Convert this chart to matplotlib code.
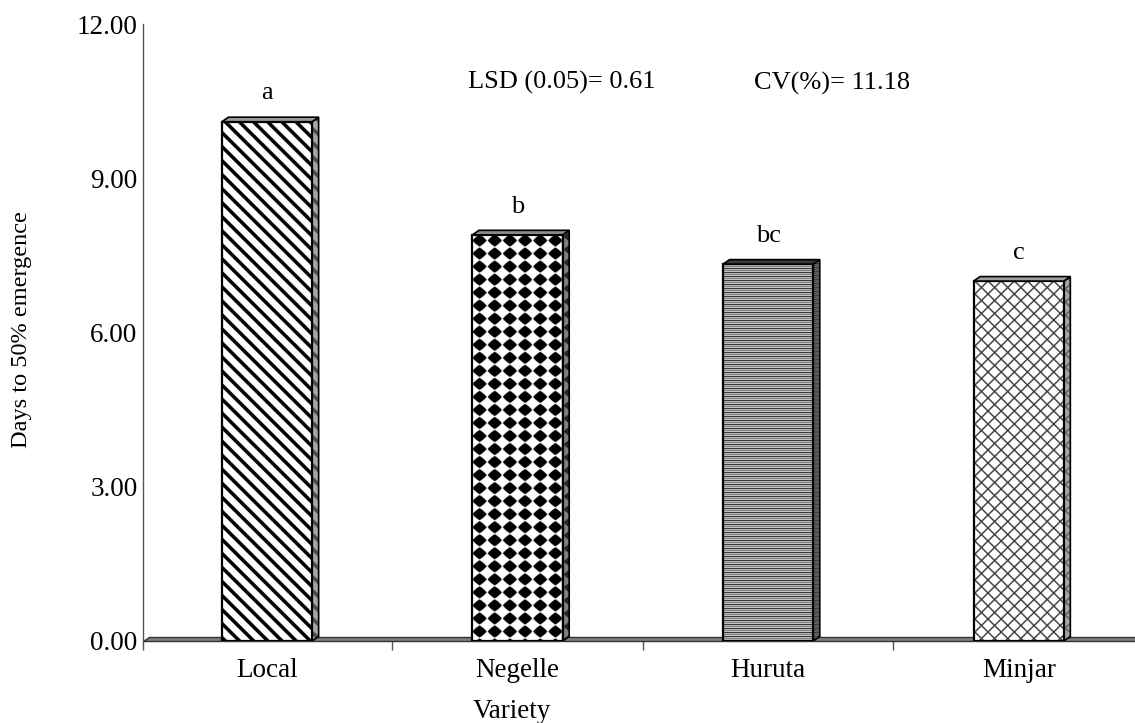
import numpy as np
import matplotlib
matplotlib.use("Agg")
import matplotlib.pyplot as plt
from matplotlib.patches import Polygon
from matplotlib.ticker import FixedLocator, FormatStrFormatter

# Data
varieties = ["Local", "Negelle", "Huruta", "Minjar"]
days_to_emergence = [10.1, 7.9, 7.33, 7.0]
mean_letters = ["a", "b", "bc", "c"]
lsd_text = "LSD (0.05)= 0.61"
cv_text = "CV(%)= 11.18"
y_ticks = [0, 3, 6, 9, 12]

plt.rcParams["font.family"] = ["Liberation Serif", "DejaVu Serif"]

W_PX, H_PX = 1135, 723
fig = plt.figure(figsize=(W_PX / 100, H_PX / 100), dpi=100)
ax = fig.add_axes([143 / W_PX, 1 - 641 / H_PX, (W_PX - 143) / W_PX, (641 - 24) / H_PX])

XMIN, XMAX = -0.495, 3.464
ax.set_xlim(XMIN, XMAX)
ax.set_ylim(0, 12)

bar_w = 0.36
depth_x = 6.5 / 250.6
depth_y = 4.5 / 51.42
SS = 4  # texture supersampling factor


# ---- fill textures, defined in screen pixels ----
def grid(H, W):
    i, j = np.mgrid[0:H * SS, 0:W * SS]
    return (i + 0.5) / SS, (j + 0.5) / SS


def tex_diag(H, W):
    i, j = grid(H, W)
    return np.where(((j - i) % 14) < 5, 0.0, 1.0)


def tex_diamond(H, W):
    i, j = grid(H, W)
    dx = (j % 15) / 15 - 0.5
    dy = (i % 13) / 13 - 0.5
    r = (np.abs(dx) ** 1.15 + np.abs(dy) ** 1.15) ** (1 / 1.15)
    return np.clip((r - 0.44) / 0.05, 0, 1)


def tex_hlines(H, W):
    i, _ = grid(H, W)
    seq = np.array([0.1, 0.8, 0.45, 0.85])
    return seq[np.floor(i).astype(int) % 4]


def tex_cross(H, W):
    i, j = grid(H, W)
    a = (i + j) % 13
    b = (j - i) % 13
    line = (a < 1.8) | (b < 1.8)
    return np.where(line, 0.22, 1.0)


textures = [tex_diag, tex_diamond, tex_hlines, tex_cross]
top_fill = ["#9a9a9a", "#8a8a8a", "#3a3a3a", "#a0a0a0"]
side_scale = [(0.30, 0.35), (0.15, 0.35), (0.15, 0.35), (0.30, 0.35)]

bars = ax.bar(range(len(varieties)), days_to_emergence, width=bar_w,
              facecolor="none", edgecolor="black", linewidth=1.6, zorder=5)

fig.canvas.draw()
T = ax.transData


def px_size(x0, x1, y0, y1):
    (a, b), (c, d) = T.transform([(x0, y0), (x1, y1)])
    return max(int(round(abs(d - b))), 2), max(int(round(abs(c - a))), 2)


# floor band along the category axis
floor = Polygon([(XMIN, 0), (XMAX + 0.1, 0), (XMAX + 0.1, depth_y), (XMIN + depth_x, depth_y)],
                closed=True, facecolor="#7f7f7f", edgecolor="#333333", linewidth=1.0,
                zorder=2, clip_on=False)
ax.add_patch(floor)

for k, bar in enumerate(bars):
    x0 = bar.get_x()
    x1 = x0 + bar.get_width()
    v = bar.get_height()
    H, W = px_size(x0, x1, 0, v)
    tex = textures[k](H, W)
    ax.imshow(tex, cmap="gray", vmin=0, vmax=1, extent=[x0, x1, 0, v],
              origin="upper", aspect="auto", interpolation="antialiased",
              interpolation_stage="rgba", zorder=3)

    # side face
    side = Polygon([(x1, 0), (x1 + depth_x, depth_y), (x1 + depth_x, v + depth_y), (x1, v)],
                   closed=True, facecolor="none", edgecolor="black", linewidth=1.2, zorder=6)
    ax.add_patch(side)
    Hs, Ws = px_size(x1, x1 + depth_x, 0, v + depth_y)
    lo, sc = side_scale[k]
    stex = textures[k](Hs, Ws) * sc + lo
    im = ax.imshow(stex, cmap="gray", vmin=0, vmax=1,
                   extent=[x1, x1 + depth_x, 0, v + depth_y],
                   origin="upper", aspect="auto", interpolation="antialiased",
                   interpolation_stage="rgba", zorder=4)
    im.set_clip_path(side)

    # top face
    top = Polygon([(x0, v), (x1, v), (x1 + depth_x, v + depth_y), (x0 + depth_x, v + depth_y)],
                  closed=True, facecolor=top_fill[k], edgecolor="black", linewidth=1.2, zorder=6)
    ax.add_patch(top)

    ax.annotate(mean_letters[k], xy=(bar.get_x() + bar.get_width() / 2, v),
                xytext=(0, 16), textcoords="offset points",
                ha="center", va="baseline", fontsize=19, zorder=7)

ax.set_xlim(XMIN, XMAX)
ax.set_ylim(0, 12)

# axes styling
for s in ["top", "right", "bottom"]:
    ax.spines[s].set_visible(False)
ax.spines["left"].set_color("#555555")
ax.spines["left"].set_linewidth(1.0)
ax.spines["left"].set_zorder(8)

ax.yaxis.set_major_locator(FixedLocator(y_ticks))
ax.yaxis.set_major_formatter(FormatStrFormatter("%.2f"))
ax.tick_params(axis="y", length=0, pad=4, labelsize=19.5)

ax.set_xticks(range(len(varieties)))
ax.set_xticklabels(varieties)
ax.set_xticks([XMIN, 0.5, 1.5, 2.5], minor=True)
ax.tick_params(axis="x", which="major", length=0, pad=12, labelsize=19.5)
ax.tick_params(axis="x", which="minor", length=6.5, width=1.0, color="#555555", direction="out")

ax.text(1.177, 10.87, lsd_text, ha="center", va="center", fontsize=19)
ax.text(2.255, 10.85, cv_text, ha="center", va="center", fontsize=19)

fig.text(22 / W_PX, 1 - 330 / H_PX, "Days to 50% emergence", rotation=90,
         ha="center", va="center", fontsize=17.5)
fig.text(512 / W_PX, 1 - 711 / H_PX, "Variety", ha="center", va="center", fontsize=19.5)

fig.savefig("out.png", dpi=100)
